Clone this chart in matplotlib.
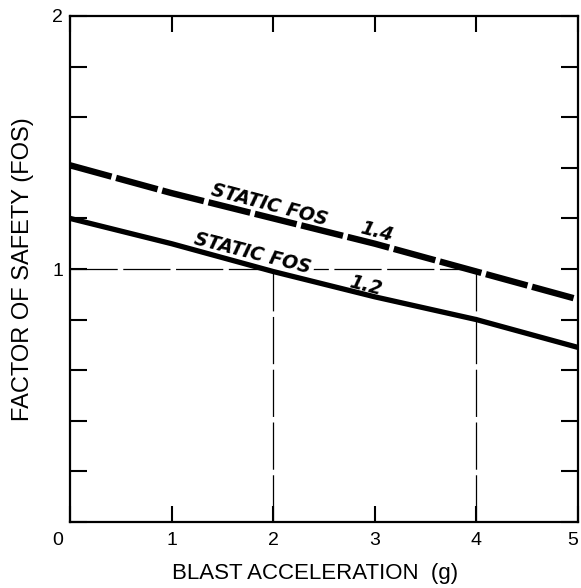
import numpy as np
import matplotlib
matplotlib.use("Agg")
import matplotlib.pyplot as plt
import matplotlib.transforms as mtransforms

plt.rcParams['font.family'] = ['Liberation Sans', 'DejaVu Sans']
plt.rcParams['lines.scale_dashes'] = False

# blast acceleration (g) and factor of safety
accel = [0, 1, 2, 3, 4, 5]
fos_14 = [1.41, 1.30, 1.20, 1.10, 0.99, 0.88]
fos_12 = [1.20, 1.10, 0.99, 0.89, 0.80, 0.69]

ref_fos = 1.0
ref_accel = [2, 4]

xticks = [0, 1, 2, 3, 4, 5]
xticklabels = ['0', '1', '2', '3', '4', '5']
yticks = [0, 0.2, 0.4, 0.6, 0.8, 1.0, 1.2, 1.4, 1.6, 1.8, 2.0]
yticklabels = ['', '', '', '', '', '1', '', '', '', '', '2']

fig = plt.figure(figsize=(5.81, 5.88), dpi=100)
ax = fig.add_axes([70/581, 1-522/588, 508/581, 506/588])
ax.set_xlim(0, 5)
ax.set_ylim(0, 2)

# thin dashed reference lines
thin = dict(color='black', lw=0.9, dashes=(34, 4), zorder=1)
ax.plot([0, ref_accel[1]], [ref_fos, ref_fos], **thin)
for a in ref_accel:
    ax.plot([a, a], [0, ref_fos], **thin)

# FOS curves
ax.plot(accel, fos_14, color='black', lw=4.6, dashes=(31, 3.4),
        solid_capstyle='butt', dash_capstyle='butt', zorder=3)
ax.plot(accel, fos_12, color='black', lw=3.8, solid_capstyle='butt', zorder=3)

def line_at(xs, ys, x):
    return np.interp(x, xs, ys)

tkw = dict(fontsize=13.5, fontstyle='italic', fontweight='bold',
           family='DejaVu Sans', rotation_mode='anchor', ha='left',
           va='baseline', transform_rotates_text=True, zorder=2)
ang = np.degrees(np.arctan((fos_14[-1] - fos_14[0]) / (accel[-1] - accel[0])))
ax.text(1.38, line_at(accel, fos_14, 1.38) + 0.03, 'STATIC FOS',
        rotation=ang, bbox=dict(fc='white', ec='none', pad=1), **tkw)
ax.text(2.85, line_at(accel, fos_14, 2.85) + 0.028, '1.4', rotation=ang, **tkw)
ang2 = np.degrees(np.arctan((fos_12[-1] - fos_12[0]) / (accel[-1] - accel[0])))
ax.text(1.21, line_at(accel, fos_12, 1.21) + 0.02, 'STATIC FOS',
        rotation=ang2, bbox=dict(fc='white', ec='none', pad=2.5), **tkw)
ax.text(2.74, line_at(accel, fos_12, 2.74) + 0.012, '1.2', rotation=ang2, **tkw)

# axes, ticks
for s in ax.spines.values():
    s.set_linewidth(1.6)
ax.set_xticks(xticks)
ax.set_xticklabels(xticklabels)
ax.set_yticks(yticks)
ax.set_yticklabels(yticklabels)
ax.tick_params(axis='x', direction='in', length=11.5, width=1.5, top=True,
               labelsize=14, pad=7)
ax.tick_params(axis='y', direction='in', length=12.5, width=1.5, right=True,
               labelsize=14, pad=5)
xt = ax.xaxis.get_major_ticks()
lab0 = xt[0].label1
lab0.set_transform(lab0.get_transform() +
                   mtransforms.ScaledTranslation(-12/100, 0, fig.dpi_scale_trans))
xt[-1].label1.set_horizontalalignment('right')

ax.set_xlabel('BLAST ACCELERATION  (g)', fontsize=16)
ax.set_ylabel('FACTOR OF SAFETY (FOS)', fontsize=17)
ax.xaxis.set_label_coords(0.482, -0.082)
ax.yaxis.set_label_coords(-0.07, 0.5)

fig.savefig('out.png', dpi=100)
